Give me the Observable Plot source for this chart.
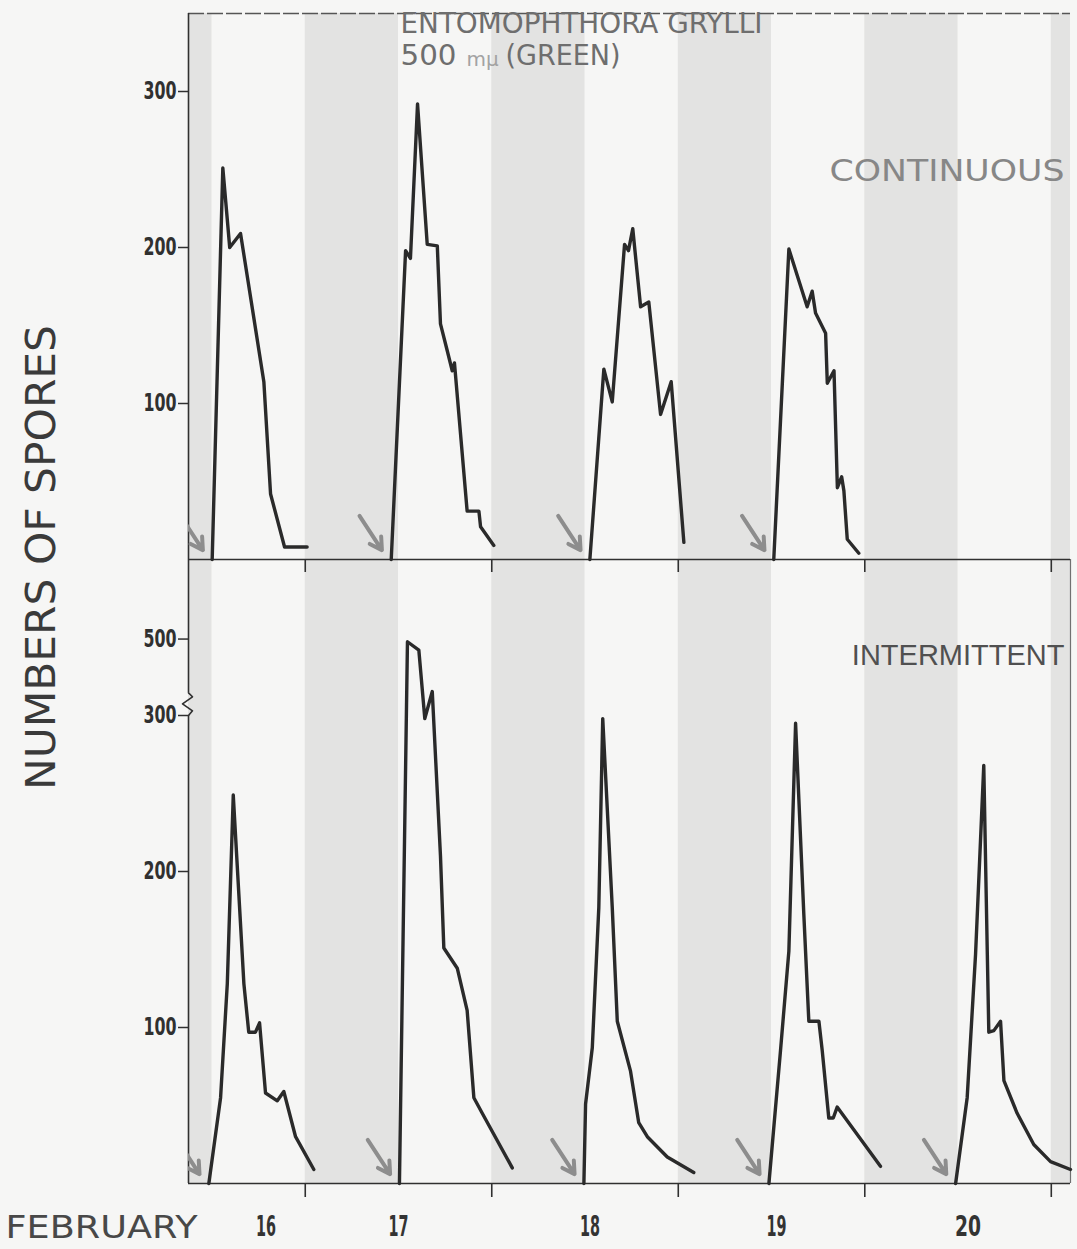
<!DOCTYPE html>
<html><head><meta charset="utf-8">
<script src="https://cdn.jsdelivr.net/npm/d3@7"></script>
<script src="https://cdn.jsdelivr.net/npm/@observablehq/plot@0.6"></script>
<style>
html,body{margin:0;padding:0;background:#f6f6f5;}
#wrap{position:relative;width:1077px;height:1249px;overflow:hidden;background:#f6f6f5;}
#top,#bottom{position:absolute;left:0;}
#top{top:0;z-index:2;}
#bottom{top:558px;z-index:1;}
</style></head>
<body><div id="wrap"><div id="bottom"></div><div id="top"></div></div>
<script>
// ---- data (time in days of February, spore counts) ----
const continuous16 = [[16.001,0],[16.058,251],[16.095,200],[16.153,209],[16.278,114],[16.314,42],[16.389,8],[16.510,8]];
const continuous17 = [[16.961,0],[17.038,198],[17.064,193],[17.102,292],[17.154,202],[17.208,201],[17.225,151],[17.261,134],[17.288,121],[17.300,126],[17.368,31],[17.431,31],[17.440,21],[17.511,9]];
const continuous18 = [[18.026,0],[18.101,122],[18.146,101],[18.212,202],[18.233,198],[18.256,212],[18.298,162],[18.342,165],[18.405,93],[18.462,114],[18.530,11]];
const continuous19 = [[19.012,0],[19.093,199],[19.191,162],[19.218,172],[19.236,158],[19.290,145],[19.299,113],[19.335,121],[19.353,46],[19.376,53],[19.388,44],[19.406,13],[19.468,4]];

const intermittent16 = [[15.983,0],[16.046,55],[16.082,128],[16.114,249],[16.171,128],[16.197,97],[16.233,97],[16.255,103],[16.287,58],[16.350,53],[16.385,59],[16.448,30],[16.546,9]];
const intermittent17 = [[17.005,0],[17.048,490],[17.109,459],[17.141,298],[17.181,305],[17.225,210],[17.243,151],[17.315,138],[17.368,111],[17.404,55],[17.449,45],[17.610,10]];
const intermittent18 = [[17.994,0],[18.003,51],[18.039,87],[18.074,177],[18.095,298],[18.146,177],[18.173,104],[18.244,72],[18.288,39],[18.334,30],[18.441,17],[18.583,7]];
const intermittent19 = [[18.986,0],[19.048,85],[19.093,149],[19.129,295],[19.173,173],[19.200,104],[19.254,104],[19.272,85],[19.307,42],[19.331,42],[19.352,49],[19.584,11]];
const intermittent20 = [[19.987,0],[20.049,55],[20.094,147],[20.138,268],[20.157,147],[20.165,97],[20.192,98],[20.228,104],[20.246,66],[20.317,45],[20.406,25],[20.496,14],[20.603,9]];

const darkPeriods = [[15.874,16.0],[16.5,17.0],[17.5,18.0],[18.5,19.0],[19.5,20.0],[20.5,20.603]];
const dayLabels = [16,17,18,19,20];
const tickDays = [16.5,17.5,18.5,19.5,20.5];
const yTicksTop = [100,200,300];
const yTicksBottom = [100,200,300,500];

// ---- layout / style ----
const xDomain = [15.874, 20.603];
const pxPerDay = 186.5;
const breakAt = 300, breakGap = 14.5, upperRatio = 0.1725;
const brk = v => v <= breakAt ? v : breakAt + breakGap + (v - breakAt) * upperRatio;
const pxPerUnit = 1.56;
const LINE = "#2a2a2a", BAND = "#e3e3e2", ARROW = "#8d8d8d", AX = "#303030";
const SANS = "'DejaVu Sans', 'Liberation Sans', sans-serif";
const LIB = "'Liberation Sans', 'DejaVu Sans', sans-serif";
const NARROW = "'Liberation Sans Narrow', 'DejaVu Sans Condensed', 'Roboto Condensed', 'Liberation Sans', sans-serif";
const labelNudgePx = {16: 54, 17: 0, 18: 5, 19: 5, 20: 10};

const rows = series => series.flatMap((s, i) => s.map(([t, n]) => ({t, n, cycle: i})));
const contRows = rows([continuous16, continuous17, continuous18, continuous19]);
const interRows = rows([intermittent16, intermittent17, intermittent18, intermittent19, intermittent20]);
const contStarts = [continuous16, continuous17, continuous18, continuous19].map(s => s[0][0]);
const interStarts = [intermittent16, intermittent17, intermittent18, intermittent19, intermittent20].map(s => s[0][0]);

const arrowOpts = {x1: d => d - 0.17, y1: 28, x2: d => d - 0.05, y2: 6, stroke: ARROW, strokeWidth: 4, headLength: 11, clip: true};
const yAxisOpts = {tickSize: 10, tickPadding: 2, label: null, fontSize: 24, fontWeight: "bold", fontFamily: NARROW, stroke: AX, strokeWidth: 1.5};

// ---- top panel: continuous ----
const topSvg = Plot.plot({
  width: 1077, height: 574,
  marginLeft: 188, marginRight: 7, marginTop: 13, marginBottom: 15,
  x: {domain: xDomain, axis: null},
  y: {domain: [0, 350], axis: null},
  style: {background: "transparent", overflow: "visible", fontFamily: SANS, color: AX},
  marks: [
    Plot.rect(darkPeriods, {x1: d => d[0], x2: d => d[1], fill: BAND}),
    Plot.ruleY([350], {stroke: "#555", strokeWidth: 1.5, strokeDasharray: "16 3"}),
    Plot.ruleX([xDomain[0]], {y1: 0, y2: 350, stroke: AX, strokeWidth: 1.6}),
    Plot.ruleY([0], {stroke: AX, strokeWidth: 1.6}),
    Plot.ruleX(tickDays, {x: d => d, y1: 0, y2: -13 / pxPerUnit, stroke: AX, strokeWidth: 1.6}),
    Plot.axisY({...yAxisOpts, ticks: yTicksTop, tickFormat: d => String(d)}),
    Plot.arrow(contStarts, arrowOpts),
    Plot.line(contRows, {x: "t", y: "n", z: "cycle", stroke: LINE, strokeWidth: 3.4}),
    Plot.text(["ENTOMOPHTHORA GRYLLI"], {frameAnchor: "top-left", dx: 212, dy: 0, lineAnchor: "top", textAnchor: "start", fontSize: 28, fill: "#6e6e6e"}),
    Plot.text(["500"], {frameAnchor: "top-left", dx: 212, dy: 32, lineAnchor: "top", textAnchor: "start", fontSize: 28, fill: "#6e6e6e"}),
    Plot.text(["mμ"], {frameAnchor: "top-left", dx: 278, dy: 38, lineAnchor: "top", textAnchor: "start", fontSize: 20, fill: "#a3a3a3"}),
    Plot.text(["(GREEN)"], {frameAnchor: "top-left", dx: 317, dy: 32, lineAnchor: "top", textAnchor: "start", fontSize: 28, fill: "#6e6e6e"}),
    Plot.text(["CONTINUOUS"], {frameAnchor: "top-right", dx: -6, dy: 145, lineAnchor: "top", textAnchor: "end", fontSize: 31, fill: "#878787"}),
    Plot.text(["NUMBERS OF SPORES"], {frameAnchor: "top-left", dx: -146, dy: 544, rotate: -90, textAnchor: "middle", lineAnchor: "middle", fontSize: 40, fill: "#3a3a3a"})
  ]
});

// ---- bottom panel: intermittent ----
const tickLabel = new Map(yTicksBottom.map(v => [brk(v), String(v)]));
const zigPx = [[0, 314.5], [4, 312], [-6, 307.5], [4, 303], [0, 300]];
const bottomSvg = Plot.plot({
  width: 1077, height: 691,
  marginLeft: 188, marginRight: 7, marginTop: 1, marginBottom: 66,
  x: {domain: xDomain, axis: null},
  y: {domain: [0, 400], axis: null},
  style: {background: "transparent", overflow: "visible", fontFamily: SANS, color: AX},
  marks: [
    Plot.rect(darkPeriods, {x1: d => d[0], x2: d => d[1], fill: BAND}),
    Plot.ruleX([xDomain[0]], {y1: 0, y2: breakAt, stroke: AX, strokeWidth: 1.6}),
    Plot.ruleX([xDomain[0]], {y1: breakAt + breakGap, y2: 400, stroke: AX, strokeWidth: 1.6}),
    Plot.line(zigPx, {x: d => xDomain[0] + d[0] / pxPerDay, y: d => d[1], stroke: AX, strokeWidth: 1.6}),
    Plot.ruleX([xDomain[1]], {y1: 0, y2: 400, stroke: "#707070", strokeWidth: 1.2}),
    Plot.ruleY([0], {stroke: AX, strokeWidth: 1.6}),
    Plot.ruleX(tickDays, {x: d => d, y1: 0, y2: -14 / pxPerUnit, stroke: AX, strokeWidth: 1.6}),
    Plot.axisY({...yAxisOpts, ticks: yTicksBottom.map(brk), tickFormat: d => tickLabel.get(d)}),
    Plot.arrow(interStarts, arrowOpts),
    Plot.line(interRows, {x: "t", y: d => brk(d.n), z: "cycle", stroke: LINE, strokeWidth: 3.4}),
    Plot.text(["INTERMITTENT"], {frameAnchor: "top-right", dx: -6, dy: 85, lineAnchor: "top", textAnchor: "end", fontSize: 29, fontFamily: LIB, fill: "#505050"}),
    Plot.text(["FEBRUARY"], {frameAnchor: "bottom-left", dx: -183, dy: 44, lineAnchor: "middle", textAnchor: "start", fontSize: 32, fill: "#484848"}),
    Plot.text(dayLabels, {x: d => d + (labelNudgePx[d] || 0) / pxPerDay, frameAnchor: "bottom", dy: 44, lineAnchor: "middle", text: d => String(d), fontSize: 28, fontWeight: "bold", fontFamily: NARROW, fill: "#333"})
  ]
});

// fit text widths to the reference lettering
function fit(svg, str, len) {
  d3.select(svg).selectAll("text").filter(function() { return this.textContent === str; })
    .attr("textLength", len).attr("lengthAdjust", "spacingAndGlyphs");
}
fit(topSvg, "ENTOMOPHTHORA GRYLLI", 362);
fit(topSvg, "500", 56);
fit(topSvg, "(GREEN)", 115);
fit(topSvg, "CONTINUOUS", 235);
fit(topSvg, "NUMBERS OF SPORES", 465);
["100","200","300"].forEach(s => fit(topSvg, s, 33));
["100","200","300","500"].forEach(s => fit(bottomSvg, s, 33));
fit(bottomSvg, "FEBRUARY", 192);
dayLabels.forEach(d => fit(bottomSvg, String(d), d === 20 ? 26 : 20));

document.getElementById("top").append(topSvg);
document.getElementById("bottom").append(bottomSvg);
</script>
</body></html>
